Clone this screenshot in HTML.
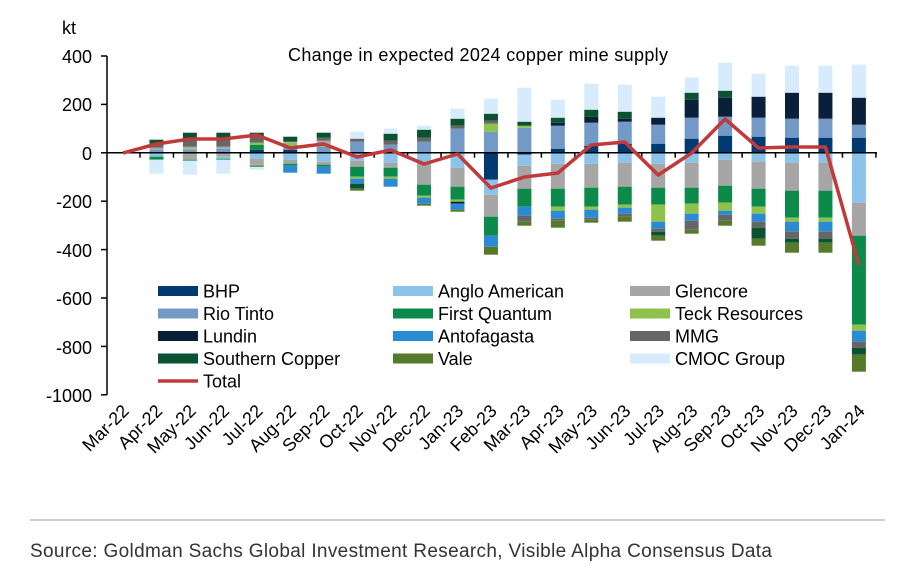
<!DOCTYPE html>
<html><head><meta charset="utf-8"><style>
body{margin:0;background:#fff;width:918px;height:580px;overflow:hidden;font-family:"Liberation Sans",Arial,sans-serif}
</style></head><body>
<svg id="s" width="918" height="580" xmlns="http://www.w3.org/2000/svg" font-family="Liberation Sans, Arial, sans-serif">
<text x="62" y="34" font-size="18">kt</text>
<text x="478" y="61" font-size="18" text-anchor="middle" textLength="380">Change in expected 2024 copper mine supply</text>
<g font-size="18" text-anchor="end">
<text x="92" y="63">400</text><text x="92" y="111">200</text><text x="92" y="160">0</text>
<text x="92" y="208">-200</text><text x="92" y="257">-400</text><text x="92" y="305">-600</text>
<text x="92" y="354">-800</text><text x="92" y="402">-1000</text>
</g>
<g id="bars"></g>
<g id="axes" stroke="#000" stroke-width="1.5"></g>
<polyline id="tot" fill="none" stroke="#c0393b" stroke-width="3.5" stroke-linejoin="round"/>
<g id="leg" font-size="18"></g>
<g id="xl" font-size="18"></g>
<line x1="30" y1="520" x2="885" y2="520" stroke="#999" stroke-width="1"/>
<text x="30" y="557" font-size="19" fill="#333" textLength="742">Source: Goldman Sachs Global Investment Research, Visible Alpha Consensus Data</text>
</svg>
<script>
const C={B:"#003a70",A:"#8cc3ea",G:"#a6a6a6",R:"#7399c6",F:"#0b8a4a",T:"#8dc34a",L:"#0a1f3a",X:"#2a8ad4",M:"#666666",S:"#0a5230",V:"#557a2b",O:"#d6ebfb"};
const D=[
[[],[]],
[[["R",3],["G",2],["M",4],["S",4]],[["A",4],["F",3],["O",14]]],
[[["R",3],["T",1],["G",2],["M",8],["S",6]],[["G",7],["F",1],["O",14]]],
[[["R",4],["G",2],["M",8],["S",6]],[["G",4],["A",2],["F",1],["O",14]]],
[[["B",3],["F",5],["T",2],["M",6],["S",4]],[["A",6],["G",6],["T",1],["S",1],["O",3]]],
[[["B",3],["R",3],["T",4],["G",1],["S",5]],[["A",7],["G",4],["F",2],["X",7]]],
[[["R",6],["T",3],["G",3],["M",3],["S",5]],[["A",9],["G",3],["F",2],["X",7]]],
[[["R",11],["M",3],["O",7]],[["A",8],["G",6],["F",10],["T",2],["X",5],["S",5],["V",2]]],
[[["R",8],["M",4],["S",7],["O",5]],[["A",10],["G",5],["F",9],["T",2],["X",8]]],
[[["R",11],["M",4],["S",8],["O",4]],[["A",10],["G",22],["F",11],["T",2],["X",6],["V",2]]],
[[["R",24],["M",3],["S",7],["O",10]],[["A",15],["G",19],["F",13],["T",2],["L",2],["X",6],["V",2]]],
[[["R",21],["T",8],["M",3],["S",7],["O",15]],[["B",27],["A",15],["G",22],["F",19],["X",11],["V",8]]],
[[["R",25],["T",2],["S",4],["O",34]],[["B",2],["A",11],["G",23],["F",18],["X",9],["M",6],["V",4]]],
[[["B",4],["R",23],["L",3],["S",5],["O",18]],[["A",11],["G",25],["F",18],["T",4],["X",8],["M",2],["V",7]]],
[[["B",7],["R",23],["L",6],["S",7],["O",26]],[["A",11],["G",24],["F",19],["T",3],["X",8],["M",2],["V",3]]],
[[["B",9],["R",22],["L",3],["S",7],["O",27]],[["A",10],["G",24],["F",18],["T",3],["X",6],["M",3],["V",5]]],
[[["B",9],["R",19],["L",7],["O",21]],[["A",11],["G",24],["F",17],["T",17],["X",7],["M",3],["S",4],["V",5]]],
[[["B",14],["R",21],["L",18],["S",7],["O",15]],[["A",10],["G",25],["F",16],["T",10],["X",7],["M",9],["V",4]]],
[[["B",17],["R",19],["L",19],["S",7],["O",28]],[["A",7],["G",26],["F",17],["T",8],["X",4],["M",6],["V",5]]],
[[["B",16],["R",19],["L",21],["O",23]],[["A",9],["G",27],["F",18],["T",7],["X",8],["M",6],["S",11],["V",7]]],
[[["B",15],["R",19],["L",26],["O",27]],[["A",10],["G",28],["F",27],["T",4],["X",10],["M",7],["S",4],["V",10]]],
[[["B",15],["R",19],["L",26],["O",27]],[["A",10],["G",28],["F",27],["T",4],["X",10],["M",7],["S",4],["V",10]]],
[[["B",15],["R",13],["L",27],["O",33]],[["A",50],["G",33],["F",89],["T",6],["X",11],["M",6],["S",7],["V",17]]]];
const tot=[153,144,139,139,135,148,144,157,150,164,154,188,177,173,145,142,175,153,119,148,147,147,265];
const lab=["Mar-22","Apr-22","May-22","Jun-22","Jul-22","Aug-22","Sep-22","Oct-22","Nov-22","Dec-22","Jan-23","Feb-23","Mar-23","Apr-23","May-23","Jun-23","Jul-23","Aug-23","Sep-23","Oct-23","Nov-23","Dec-23","Jan-24"];
const Z=152.7,W=14;let h="",pts=[],xl="";
D.forEach((d,i)=>{const cx=123+33.45*i;let y=Z;
 d[0].forEach(([c,v])=>{y-=v;h+=`<rect x="${cx-W/2}" y="${y}" width="${W}" height="${v}" fill="${C[c]}"/>`});
 y=Z;d[1].forEach(([c,v])=>{h+=`<rect x="${cx-W/2}" y="${y}" width="${W}" height="${v}" fill="${C[c]}"/>`;y+=v});
 pts.push(cx+","+tot[i]);
 xl+=`<text transform="translate(${cx+7},${412}) rotate(-45)" text-anchor="end">${lab[i]}</text>`;});
document.getElementById("bars").innerHTML=h;
document.getElementById("tot").setAttribute("points",pts.join(" "));
document.getElementById("xl").innerHTML=xl;
let a=`<line x1="107" y1="56" x2="107" y2="395"/><line x1="107" y1="${Z}" x2="877" y2="${Z}"/>`;
for(let k=0;k<=7;k++){const y=56+k*48.4;a+=`<line x1="101" y1="${y}" x2="107" y2="${y}"/>`}
for(let k=0;k<23;k++){const x=140+33.45*k;a+=`<line x1="${x}" y1="${Z}" x2="${x}" y2="${Z+5}"/>`}
document.getElementById("axes").innerHTML=a;
const L=[["B","BHP"],["A","Anglo American"],["G","Glencore"],["R","Rio Tinto"],["F","First Quantum"],["T","Teck Resources"],["L","Lundin"],["X","Antofagasta"],["M","MMG"],["S","Southern Copper"],["V","Vale"],["O","CMOC Group"]];
let g="";L.forEach(([c,n],i)=>{const col=i%3,row=Math.floor(i/3);const x=[158,393,630][col],y=291+row*22.5;
g+=`<rect x="${x}" y="${y-5}" width="40" height="10" fill="${C[c]}"/><text x="${x+45}" y="${y+6.5}">${n}</text>`});
g+=`<line x1="158" y1="381" x2="198" y2="381" stroke="#c0393b" stroke-width="3.5"/><text x="203" y="387.5">Total</text>`;
document.getElementById("leg").innerHTML=g;
</script>
</body></html>
